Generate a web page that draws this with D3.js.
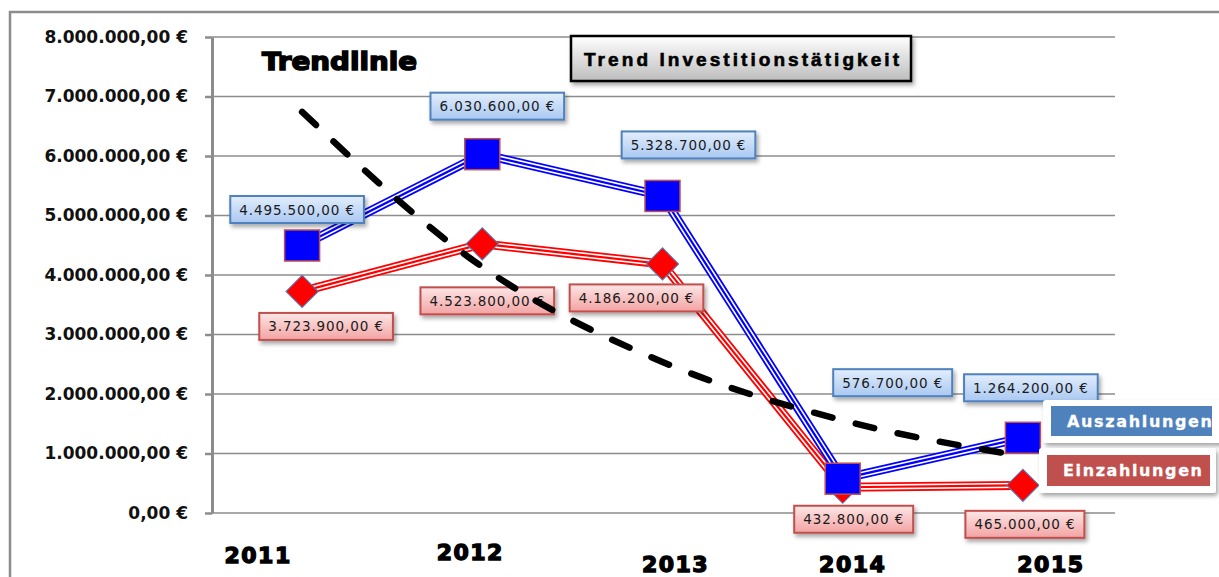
<!DOCTYPE html>
<html>
<head>
<meta charset="utf-8">
<title>Trend Investitionstätigkeit</title>
<script src="https://d3js.org/d3.v7.min.js"></script>
<style>
  body { margin: 0; background: #fff; }
  svg { display: block; }
</style>
</head>
<body>
<script>
// ---- data ----
var years = ["2011", "2012", "2013", "2014", "2015"];
var auszahlungen = [4495500, 6030600, 5328700, 576700, 1264200];
var einzahlungen = [3723900, 4523800, 4186200, 432800, 465000];
var yTicks = [0, 1000000, 2000000, 3000000, 4000000, 5000000, 6000000, 7000000, 8000000];
var seriesNames = ["Auszahlungen", "Einzahlungen"];
var chartTitle = "Trend Investitionstätigkeit";
var trendTitle = "Trendlinie";

// ---- placement of the data labels / year labels (px) ----
var blueLabelOffset = [[-5, -36], [15, -48], [26, -51], [50, -96], [8, -50]];
var redLabelOffset = [[24, 35], [5, 57], [-26, 34], [11, 32], [2, 39]];
var yearLabelPos = [[-44, 563], [-12, 560], [13, 572], [10, 572], [28, 572]];

var W = 1219, H = 577;
var blue = "#0000ff", red = "#ff0000", grid = "#8c8c8c";

var de = d3.formatLocale({decimal: ",", thousands: ".", grouping: [3], currency: ["", " €"]});
var fmt = de.format("$,.2f");

var svg = d3.select("body").append("svg")
    .attr("width", W)
    .attr("height", H);

var defs = svg.append("defs");
var shadow = defs.append("filter").attr("id", "shadow")
    .attr("x", "-20%").attr("y", "-30%").attr("width", "150%").attr("height", "180%");
shadow.append("feDropShadow").attr("dx", 2).attr("dy", 3).attr("stdDeviation", 2)
    .attr("flood-color", "#000").attr("flood-opacity", 0.35);

function grad(id, top, bottom) {
    var g = defs.append("linearGradient").attr("id", id)
        .attr("x1", 0).attr("y1", 0).attr("x2", 0).attr("y2", 1);
    g.append("stop").attr("offset", "0%").attr("stop-color", top);
    g.append("stop").attr("offset", "100%").attr("stop-color", bottom);
}
grad("gBlue", "#e3eefc", "#a9c8f2");
grad("gRed", "#fde6e6", "#f3a3a3");
grad("gTitle", "#ffffff", "#bdbdbd");

// frame
svg.append("path")
    .attr("d", "M10," + H + "V12H" + W)
    .attr("fill", "none")
    .attr("stroke", grid)
    .attr("stroke-width", 2.5);

var y = d3.scaleLinear().domain([0, 8000000]).range([513, 37]);
var x = d3.scalePoint().domain(years).range([212, 1113]).padding(0.5);

// gridlines
svg.append("g").selectAll("line")
    .data(yTicks)
    .enter().append("line")
    .attr("x1", 212).attr("x2", 1115)
    .attr("y1", function(d){ return y(d); })
    .attr("y2", function(d){ return y(d); })
    .attr("stroke", grid)
    .attr("stroke-width", 1.4);

// y axis
var yAxis = svg.append("g")
    .attr("transform", "translate(212,0)")
    .call(d3.axisLeft(y).tickValues(yTicks).tickSize(7).tickSizeOuter(0).tickPadding(17).tickFormat(fmt));
yAxis.select(".domain").attr("stroke", grid).attr("stroke-width", 3);
yAxis.selectAll(".tick line").attr("stroke", grid).attr("stroke-width", 2.5);
yAxis.selectAll(".tick text")
    .attr("fill", "#111")
    .style("font-family", "'DejaVu Sans', Verdana, sans-serif")
    .style("font-weight", "bold")
    .style("font-size", "17px");

// year labels
svg.append("g").selectAll("text")
    .data(years)
    .enter().append("text")
    .attr("x", function(d, i){ return x(d) + yearLabelPos[i][0]; })
    .attr("y", function(d, i){ return yearLabelPos[i][1]; })
    .attr("text-anchor", "middle")
    .style("font-family", "'DejaVu Sans', sans-serif")
    .style("font-weight", "bold")
    .style("font-size", "22px")
    .style("letter-spacing", "1.5px")
    .attr("fill", "#000")
    .attr("stroke", "#000")
    .attr("stroke-width", 1.4)
    .text(function(d){ return d; });

// compound (triple) lines
function tripleLine(vals, color) {
    var line = d3.line()
        .x(function(d, i){ return x(years[i]); })
        .y(function(d){ return y(d); });
    var g = svg.append("g");
    [[color, 9], ["#fff", 5.4], [color, 2.2]].forEach(function(s){
        g.append("path")
            .attr("d", line(vals))
            .attr("fill", "none")
            .attr("stroke", s[0])
            .attr("stroke-width", s[1])
            .attr("stroke-linejoin", "miter");
    });
}
tripleLine(einzahlungen, red);
tripleLine(auszahlungen, blue);

// markers
svg.append("g").selectAll("path")
    .data(einzahlungen)
    .enter().append("path")
    .attr("d", d3.symbol(d3.symbolSquare, 520))
    .attr("transform", function(d, i){ return "translate(" + x(years[i]) + "," + y(d) + ") rotate(45)"; })
    .attr("fill", red)
    .attr("stroke", "#4f81bd")
    .attr("stroke-width", 1);

svg.append("g").selectAll("rect")
    .data(auszahlungen)
    .enter().append("rect")
    .attr("x", function(d, i){ return x(years[i]) - 17.5; })
    .attr("y", function(d){ return y(d) - 15.5; })
    .attr("width", 35)
    .attr("height", 31)
    .attr("fill", blue)
    .attr("stroke", "#c0504d")
    .attr("stroke-width", 1.5);

// data labels
function dataLabels(vals, offsets, fill, border) {
    vals.forEach(function(v, i){
        var cx = x(years[i]) + offsets[i][0];
        var cy = y(v) + offsets[i][1];
        var g = svg.append("g").attr("transform", "translate(" + cx + "," + cy + ")");
        var r = g.append("rect").attr("filter", "url(#shadow)");
        var t = g.append("text")
            .attr("text-anchor", "middle")
            .attr("dy", "0.37em")
            .attr("fill", "#1a1a1a")
            .style("font-family", "'DejaVu Sans', Verdana, sans-serif")
            .style("font-size", "13.5px")
            .style("letter-spacing", "0.9px")
            .text(fmt(v));
        var w = t.node().getComputedTextLength() + 18;
        r.attr("x", -w / 2).attr("y", -13.5)
            .attr("width", w).attr("height", 27)
            .attr("fill", fill)
            .attr("stroke", border)
            .attr("stroke-width", 2);
    });
}
dataLabels(auszahlungen, blueLabelOffset, "url(#gBlue)", "#4f81bd");
dataLabels(einzahlungen, redLabelOffset, "url(#gRed)", "#c0504d");

// exponential trendline of Auszahlungen (least squares on ln values)
var xs = auszahlungen.map(function(d, i){ return i + 1; });
var ls = auszahlungen.map(function(d){ return Math.log(d); });
var mx = d3.mean(xs), ml = d3.mean(ls);
var b = d3.sum(xs, function(v, i){ return (v - mx) * (ls[i] - ml); }) /
        d3.sum(xs, function(v){ return (v - mx) * (v - mx); });
var a = ml - b * mx;
var trend = xs.map(function(v){ return Math.exp(a + b * v); });

svg.append("path")
    .attr("d", d3.line()
        .x(function(d, i){ return x(years[i]); })
        .y(function(d){ return y(d); })
        .curve(d3.curveMonotoneX)(trend))
    .attr("fill", "none")
    .attr("stroke", "#000")
    .attr("stroke-width", 6.5)
    .attr("stroke-linecap", "round")
    .attr("stroke-dasharray", "19,24");

// "Trendlinie" caption
svg.append("text")
    .attr("x", 262).attr("y", 70)
    .attr("textLength", 155)
    .attr("lengthAdjust", "spacingAndGlyphs")
    .style("font-family", "'DejaVu Sans', sans-serif")
    .style("font-weight", "bold")
    .style("font-size", "25px")
    .attr("fill", "#000")
    .attr("stroke", "#000")
    .attr("stroke-width", 1.5)
    .text(trendTitle);

// title box
var tg = svg.append("g");
tg.append("rect")
    .attr("x", 571).attr("y", 36)
    .attr("width", 340).attr("height", 45)
    .attr("fill", "url(#gTitle)")
    .attr("stroke", "#000")
    .attr("stroke-width", 2.5)
    .attr("filter", "url(#shadow)");
tg.append("text")
    .attr("x", 584).attr("y", 66)
    .attr("textLength", 315)
    .attr("lengthAdjust", "spacing")
    .style("font-family", "'Liberation Sans Narrow', 'Liberation Sans', Arial, sans-serif")
    .style("font-weight", "bold")
    .style("font-size", "19px")
    .attr("fill", "#000")
    .attr("stroke", "#000")
    .attr("stroke-width", 0.6)
    .text(chartTitle);

// legend
var legendColors = ["#4f81bd", "#c0504d"];
var legendBox = [[1043, 400, 180, 43], [1039, 448, 177, 45]];
var legendInner = [[1051, 406, 161, 30], [1047, 455, 163, 31]];
var legendText = [[1067, 145], [1063, 139]];
seriesNames.forEach(function(name, i){
    var g = svg.append("g");
    g.append("rect")
        .attr("x", legendBox[i][0]).attr("y", legendBox[i][1])
        .attr("width", legendBox[i][2]).attr("height", legendBox[i][3])
        .attr("rx", 3)
        .attr("fill", "#fff")
        .attr("filter", "url(#shadow)");
    g.append("rect")
        .attr("x", legendInner[i][0]).attr("y", legendInner[i][1])
        .attr("width", legendInner[i][2]).attr("height", legendInner[i][3])
        .attr("fill", legendColors[i]);
    g.append("text")
        .attr("x", legendText[i][0])
        .attr("y", legendInner[i][1] + legendInner[i][3] / 2)
        .attr("dy", "0.37em")
        .attr("textLength", legendText[i][1])
        .attr("lengthAdjust", "spacing")
        .style("font-family", "'DejaVu Sans', Verdana, sans-serif")
        .style("font-weight", "bold")
        .style("font-size", "16px")
        .attr("fill", "#fff")
        .attr("stroke", "#fff")
        .attr("stroke-width", 0.3)
        .text(name);
});
</script>
</body>
</html>
